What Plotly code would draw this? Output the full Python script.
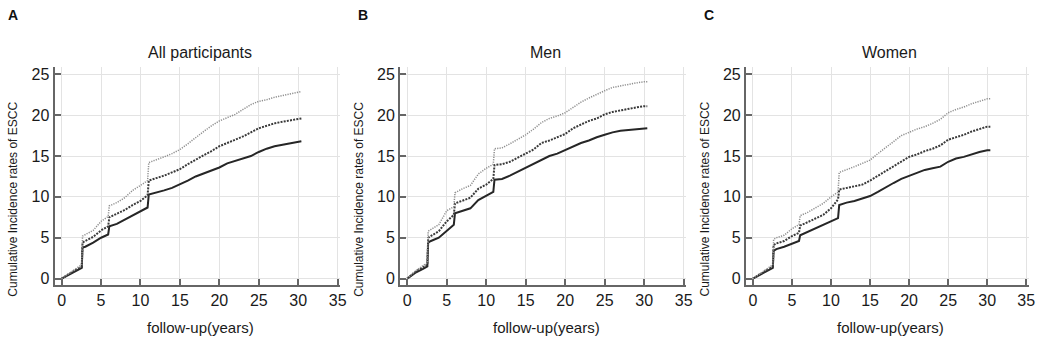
import plotly.graph_objects as go

# ---------------- data ----------------
years = [0, 1, 2, 2.55, 2.65, 3, 4, 5, 5.9, 6.05, 7, 8, 9, 10, 10.9, 11.05,
         12, 13, 14, 15, 16, 17, 18, 19, 20, 21, 22, 23, 24, 25, 26, 27, 28, 29, 30, 30.4]

panel_titles = ["All participants", "Men", "Women"]
panel_letters = ["A", "B", "C"]

all_solid = [0, 0.5, 1.0, 1.3, 3.8, 3.9, 4.4, 5.0, 5.4, 6.4, 6.7, 7.2, 7.8, 8.3, 8.7, 10.3,
             10.5, 10.8, 11.1, 11.5, 12.0, 12.5, 12.9, 13.3, 13.6, 14.1, 14.4, 14.7, 15.0, 15.5,
             15.9, 16.2, 16.4, 16.6, 16.8, 16.8]
all_dashed = [0, 0.6, 1.2, 1.4, 4.4, 4.6, 5.1, 5.9, 6.4, 7.5, 7.9, 8.4, 9.0, 9.5, 10.2, 12.0,
              12.3, 12.6, 13.0, 13.4, 14.0, 14.6, 15.1, 15.6, 16.2, 16.6, 17.0, 17.4, 17.9, 18.4,
              18.7, 19.0, 19.2, 19.4, 19.6, 19.6]
all_dotted = [0, 0.7, 1.4, 1.7, 5.2, 5.4, 5.9, 7.0, 7.6, 8.9, 9.3, 9.9, 10.8, 11.4, 12.0, 14.2,
              14.5, 14.9, 15.3, 15.8, 16.5, 17.3, 18.0, 18.7, 19.3, 19.7, 20.1, 20.7, 21.3, 21.7,
              21.9, 22.2, 22.4, 22.6, 22.85, 22.9]

men_solid = [0, 0.7, 1.2, 1.5, 4.4, 4.6, 5.0, 5.8, 6.6, 8.0, 8.3, 8.6, 9.6, 10.1, 10.6, 12.1,
             12.2, 12.6, 13.1, 13.5, 14.0, 14.6, 15.0, 15.3, 15.7, 16.2, 16.6, 16.9, 17.3, 17.6,
             17.9, 18.1, 18.2, 18.3, 18.4, 18.4]
men_dashed = [0, 0.8, 1.4, 1.7, 5.0, 5.2, 5.8, 7.0, 7.8, 9.2, 9.5, 9.9, 11.0, 11.5, 12.2, 13.9,
              14.0, 14.3, 14.8, 15.3, 15.8, 16.6, 16.9, 17.3, 17.7, 18.4, 18.9, 19.3, 19.6, 20.1,
              20.4, 20.6, 20.8, 20.95, 21.1, 21.1]
men_dotted = [0, 0.9, 1.6, 1.9, 5.8, 6.0, 6.6, 8.3, 8.8, 10.5, 11.0, 11.4, 12.8, 13.5, 14.0, 15.9,
              16.0, 16.5, 17.0, 17.6, 18.3, 19.1, 19.6, 19.9, 20.3, 21.0, 21.6, 22.1, 22.6, 23.0,
              23.4, 23.6, 23.8, 23.95, 24.1, 24.1]

women_solid = [0, 0.5, 1.0, 1.3, 3.4, 3.6, 3.9, 4.3, 4.6, 5.3, 5.7, 6.1, 6.6, 7.0, 7.4, 9.0,
               9.3, 9.5, 9.8, 10.1, 10.6, 11.2, 11.7, 12.2, 12.6, 12.9, 13.3, 13.5, 13.7, 14.3,
               14.7, 14.9, 15.2, 15.5, 15.7, 15.7]
women_dashed = [0, 0.6, 1.2, 1.5, 4.1, 4.3, 4.6, 5.2, 5.6, 6.5, 6.9, 7.3, 7.8, 8.6, 9.7, 10.9,
                11.1, 11.3, 11.5, 12.0, 12.6, 13.1, 13.7, 14.4, 14.9, 15.2, 15.6, 15.9, 16.3, 17.0,
                17.3, 17.6, 18.0, 18.3, 18.6, 18.6]
women_dotted = [0, 0.7, 1.3, 1.7, 4.8, 5.0, 5.3, 6.1, 6.6, 7.7, 8.1, 8.6, 9.2, 10.0, 10.6, 13.0,
                13.3, 13.7, 14.1, 14.5, 15.3, 16.0, 16.8, 17.5, 17.9, 18.3, 18.6, 19.0, 19.5, 20.3,
                20.7, 21.0, 21.4, 21.7, 22.0, 22.0]

x_ticks = [0, 5, 10, 15, 20, 25, 30, 35]
y_ticks = [0, 5, 10, 15, 20, 25]

panels = [
    (all_solid, all_dashed, all_dotted),
    (men_solid, men_dashed, men_dotted),
    (women_solid, women_dashed, women_dotted),
]

# ---------------- layout geometry ----------------
W, H = 1050, 344
x_domains = [(54.9 / W, 342.3 / W), (402.8 / W, 690.6 / W), (750.9 / W, 1035.5 / W)]
y_domain = (1 - 286.2 / H, 1 - 67.0 / H)
letter_px = [13, 365, 714]
ytitle_px = [13.5, 362, 710]

FONT = "Liberation Sans, Arial, sans-serif"

styles = [
    dict(color="#262626", width=2.0, dash="solid"),
    dict(color="#3a3a3a", width=2.0, dash="2px,1.2px"),
    dict(color="#8f8f8f", width=1.5, dash="1.2px,1.2px"),
]

fig = go.Figure()
annotations = []
for i, series in enumerate(panels):
    xa = "x" if i == 0 else f"x{i+1}"
    ya = "y" if i == 0 else f"y{i+1}"
    for vals, st in zip(series, styles):
        fig.add_trace(go.Scatter(x=years, y=vals, mode="lines", line=st,
                                 xaxis=xa, yaxis=ya, showlegend=False, hoverinfo="skip"))
    axis_common = dict(showline=True, linecolor="#666666", linewidth=2,
                       ticks="inside", ticklen=6, tickwidth=1.5, tickcolor="#666666",
                       showgrid=True, gridcolor="#e3e3e3", gridwidth=1, zeroline=False,
                       tickfont=dict(family=FONT, size=16, color="#1a1a1a"))
    fig.layout[f"xaxis{'' if i == 0 else i+1}"] = dict(
        domain=list(x_domains[i]), range=[-0.9, 35.3], tickvals=x_ticks,
        anchor=ya, mirror=False, **axis_common)
    fig.layout[f"yaxis{'' if i == 0 else i+1}"] = dict(
        domain=list(y_domain), range=[-0.75, 25.85], tickvals=y_ticks,
        anchor=xa, **axis_common)
    # subplot title
    annotations.append(dict(text=panel_titles[i], x=17.5, y=1 - 52 / H,
                            xref=xa, yref="paper", showarrow=False,
                            font=dict(family=FONT, size=16, color="#1a1a1a"),
                            xanchor="center", yanchor="middle"))
    # x title
    annotations.append(dict(text="follow-up(years)", x=17.6, y=1 - 329 / H,
                            xref=xa, yref="paper", showarrow=False,
                            font=dict(family=FONT, size=15, color="#1a1a1a"),
                            xanchor="center", yanchor="middle"))
    # y title
    annotations.append(dict(text="Cumulative Incidence rates of ESCC",
                            x=ytitle_px[i] / W, y=1 - 200 / H, xref="paper", yref="paper",
                            showarrow=False, textangle=-90,
                            font=dict(family=FONT, size=12, color="#1a1a1a"),
                            xanchor="center", yanchor="middle"))
    # panel letter
    annotations.append(dict(text="<b>" + panel_letters[i] + "</b>",
                            x=letter_px[i] / W, y=1 - 14 / H, xref="paper", yref="paper",
                            showarrow=False,
                            font=dict(family=FONT, size=14, color="#111111"),
                            xanchor="center", yanchor="middle"))

fig.update_layout(width=W, height=H, margin=dict(l=0, r=0, t=0, b=0),
                  paper_bgcolor="white", plot_bgcolor="white",
                  annotations=annotations, showlegend=False)

fig.write_html("out.html", config={"displayModeBar": False},
               post_script="document.body.style.margin='0';document.body.style.overflow='hidden';")
